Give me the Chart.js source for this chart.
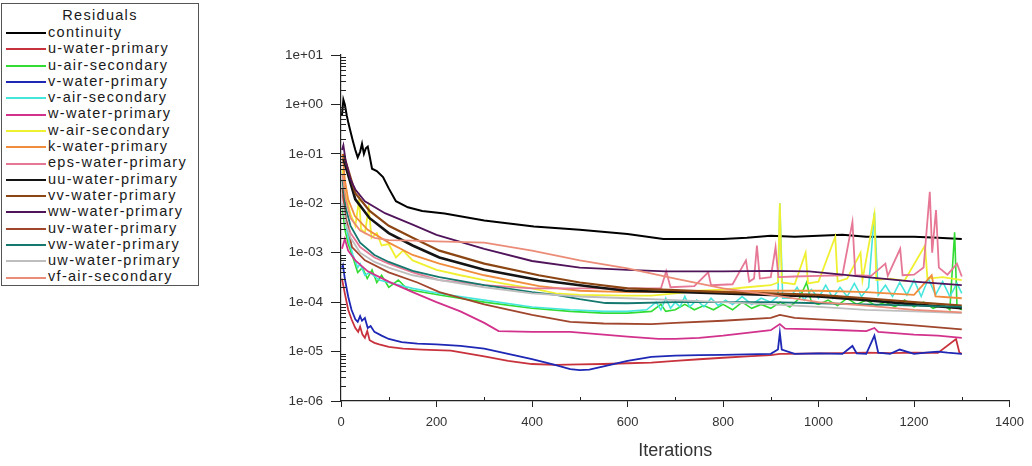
<!DOCTYPE html>
<html>
<head>
<meta charset="utf-8">
<script src="https://cdn.jsdelivr.net/npm/chart.js@4.4.1/dist/chart.umd.min.js"></script>
<style>
  body { margin: 0; background: #fff; }
  #wrap { position: relative; width: 1032px; height: 466px; }
  #legend {
    position: absolute; left: 1px; top: 3px; width: 196px; height: 281px;
    border: 1px solid #555; background: #fff;
    font-family: "Liberation Sans", Arial, sans-serif; font-size: 14.5px; letter-spacing: 1.3px; color: #1a1a1a;
  }
  #legend .title { text-align: center; height: 20px; line-height: 23px; }
  #legend .row { height: 16.3px; line-height: 16.3px; white-space: nowrap; }
  #legend .sw { display: inline-block; width: 40px; height: 2px; vertical-align: middle; margin: 0 2px 0 4px; }
</style>
</head>
<body>
<div id="wrap">
  <canvas id="myChart" width="1032" height="466"></canvas>
  <div id="legend"></div>
</div>
<script>
// residual series (iteration, value)
var names = ["continuity", "u-water-primary", "u-air-secondary", "v-water-primary", "v-air-secondary",
  "w-water-primary", "w-air-secondary", "k-water-primary", "eps-water-primary", "uu-water-primary",
  "vv-water-primary", "ww-water-primary", "uv-water-primary", "vw-water-primary", "uw-water-primary", "vf-air-secondary"];
var lineColors = ["#000000", "#c8323c", "#32dc32", "#1e28b4", "#46e6dc",
  "#d2328c", "#f0f032", "#f08c3c", "#e67896", "#141414",
  "#8c4614", "#50145a", "#a0462d", "#14786e", "#bebebe", "#eb8c78"];

var contIt = [2,5,8,12,16,20,25,30,35,40,44,48,52,56,60,65,75,88,100,115,140,170,217,300,404,500,600,675,750,800,850,900,950,1000,1050,1100,1150,1200,1250,1300];
var contVal = [0.6,1.25,1.0,0.6,0.4,0.28,0.18,0.12,0.085,0.11,0.16,0.1,0.13,0.14,0.09,0.05,0.045,0.034,0.02,0.011,0.0083,0.007,0.0062,0.0045,0.0034,0.0029,0.0024,0.0019,0.0019,0.0019,0.002,0.0022,0.0021,0.0022,0.0023,0.0021,0.0021,0.0021,0.002,0.0019];

var uWatIt = [2,8,15,22,30,36,40,45,50,55,60,70,80,100,130,170,230,300,350,400,450,500,550,600,650,700,750,800,850,900,919,930,1000,1050,1100,1150,1200,1250,1288,1295,1300];
var uWatVal = [3e-4,1.5e-4,7e-5,4.5e-5,3e-5,2.5e-5,3.2e-5,2.2e-5,1.9e-5,2.6e-5,1.7e-5,1.5e-5,1.4e-5,1.25e-5,1.15e-5,1.1e-5,1.05e-5,8e-6,6.5e-6,5.6e-6,5.4e-6,5.5e-6,5.6e-6,5.8e-6,6e-6,6.5e-6,7e-6,7.5e-6,8e-6,8.5e-6,9e-6,9e-6,9.2e-6,9.3e-6,9.5e-6,9.3e-6,9.5e-6,9.4e-6,1.8e-5,9.5e-6,9e-6];

var uAirIt = [3,8,15,25,35,45,55,65,75,85,100,120,140,206,300,400,480,550,600,650,670,680,700,720,740,760,780,800,820,840,860,880,900,920,940,960,975,985,1000,1020,1040,1060,1080,1100,1120,1140,1160,1180,1200,1220,1240,1260,1275,1285,1290,1300];
var uAirVal = [8e-3,3e-3,1.5e-3,8e-4,4e-4,5e-4,3e-4,4.5e-4,2.5e-4,3.5e-4,2e-4,2.8e-4,1.8e-4,1.4e-4,1e-4,7.5e-5,6.5e-5,6e-5,6e-5,6.5e-5,9e-5,6.5e-5,7e-5,9e-5,7e-5,8.5e-5,7e-5,9e-5,7e-5,1e-4,7.5e-5,9e-5,7.5e-5,1e-4,8e-5,1.2e-4,2.5e-4,1e-4,9e-5,1.1e-4,8.5e-5,1.2e-4,9e-5,1.1e-4,8.5e-5,1e-4,8e-5,1.1e-4,8e-5,1e-4,7.5e-5,9e-5,7e-5,2.6e-3,8e-5,7e-5];

var vWatIt = [2,4,8,15,22,30,35,40,44,50,56,62,70,85,100,127,160,200,250,300,350,400,450,480,500,520,550,600,650,700,750,800,850,900,915,919,923,950,1000,1050,1071,1080,1100,1117,1125,1150,1170,1200,1230,1250,1270,1300];
var vWatVal = [5e-4,5.6e-4,3e-4,1.3e-4,7e-5,4.5e-5,4e-5,5.2e-5,4.2e-5,4.8e-5,3e-5,3.3e-5,2.5e-5,2.1e-5,1.8e-5,1.55e-5,1.45e-5,1.4e-5,1.3e-5,1.15e-5,9e-6,7e-6,5.3e-6,4.4e-6,4.2e-6,4.3e-6,5e-6,6.5e-6,7.8e-6,8.3e-6,8.5e-6,8.6e-6,8.8e-6,9e-6,1.1e-5,2.4e-5,1.1e-5,9e-6,9.2e-6,9e-6,1.3e-5,9.2e-6,9e-6,2.1e-5,9.5e-6,9e-6,1.1e-5,9e-6,9.6e-6,1e-5,9.5e-6,9e-6];

var vAirIt = [3,8,15,25,35,40,50,60,80,100,150,206,300,400,480,550,600,640,660,670,680,690,700,710,720,730,745,760,775,790,805,820,840,860,880,900,915,919,925,940,955,970,985,1000,1015,1030,1045,1060,1075,1090,1105,1117,1125,1140,1155,1170,1185,1200,1215,1230,1245,1260,1275,1290,1300];
var vAirVal = [1e-2,5e-3,2e-3,9e-4,5e-4,6e-4,3.5e-4,4e-4,2.8e-4,2.5e-4,1.9e-4,1.5e-4,1.1e-4,8e-5,7e-5,6.5e-5,6.5e-5,7e-5,1e-4,7e-5,1.2e-4,7.5e-5,1e-4,8e-5,1.3e-4,8e-5,1.1e-4,8e-5,1.2e-4,8.5e-5,1.1e-4,9e-5,1.3e-4,9e-5,1.2e-4,1e-4,1.3e-4,1e-2,1.2e-4,1.2e-4,2e-4,1.1e-4,1.8e-4,1.2e-4,2.2e-4,1.2e-4,2e-4,1.3e-4,2.4e-4,1.3e-4,2e-4,6.5e-3,1.4e-4,2.2e-4,1.3e-4,2.5e-4,1.4e-4,2.8e-4,1.3e-4,3e-4,1.4e-4,2.6e-4,1.3e-4,2.4e-4,1.5e-4];

var wWatIt = [2,8,15,30,56,100,150,200,250,300,330,400,480,550,600,665,700,750,800,850,900,919,930,1000,1050,1100,1117,1125,1200,1250,1300];
var wWatVal = [1.2e-3,1.9e-3,1.1e-3,7e-4,4.2e-4,2.6e-4,1.6e-4,1e-4,6.5e-5,3.8e-5,2.6e-5,2.5e-5,2.5e-5,2.2e-5,2e-5,1.8e-5,1.8e-5,1.9e-5,2.1e-5,2.4e-5,2.7e-5,3.6e-5,2.9e-5,2.8e-5,2.7e-5,2.6e-5,3e-5,2.5e-5,2.2e-5,2.1e-5,1.9e-5];

var wAirIt = [3,10,20,30,38,42,50,58,64,75,85,100,115,130,150,200,250,300,350,400,450,500,600,650,700,750,800,850,900,915,919,923,950,973,978,1000,1035,1040,1060,1088,1092,1117,1121,1150,1180,1223,1228,1260,1300];
var wAirVal = [5e-2,1.5e-2,6e-3,3.5e-3,1.2e-2,3e-3,2.5e-3,8e-3,2e-3,2.5e-3,1.4e-3,1.5e-3,8e-4,1.1e-3,7e-4,4.5e-4,3.5e-4,2.8e-4,2.3e-4,1.9e-4,1.5e-4,1.4e-4,1.35e-4,1.35e-4,1.5e-4,1.7e-4,1.8e-4,2e-4,2.2e-4,2.5e-4,1e-2,2.5e-4,2.3e-4,1e-3,2.4e-4,2.6e-4,2.1e-3,2.6e-4,3e-4,1e-3,2.8e-4,6e-3,2.8e-4,3e-4,2.7e-4,1.4e-3,3e-4,3.2e-4,2.8e-4];

var kIt = [3,8,15,29,56,100,150,206,300,415,500,600,700,800,900,1000,1100,1200,1237,1245,1300];
var kVal = [0.1,0.03,0.012,5.5e-3,2.9e-3,1.6e-3,9e-4,6e-4,3.5e-4,2.1e-4,1.7e-4,1.6e-4,1.6e-4,1.65e-4,1.7e-4,1.7e-4,1.6e-4,1.4e-4,3.5e-4,1.3e-4,1.2e-4];

var epsIt = [3,10,20,40,70,100,150,206,300,400,500,600,670,681,690,740,769,775,820,848,855,865,871,877,900,910,916,950,1000,1050,1071,1077,1110,1140,1145,1171,1176,1200,1220,1233,1238,1246,1252,1270,1290,1300];
var epsVal = [1.5e-2,5e-3,2.5e-3,1.3e-3,8e-4,6e-4,4e-4,2.8e-4,2.2e-4,1.9e-4,1.9e-4,1.9e-4,1.9e-4,4.2e-4,2e-4,2.1e-4,4e-4,2.2e-4,2.3e-4,7e-4,2.6e-4,3e-4,1.4e-3,3e-4,3.2e-4,1.3e-3,3.2e-4,3.3e-4,3.4e-4,3.5e-4,4.2e-3,3.5e-4,3.4e-4,6e-4,3.4e-4,1.2e-3,3.5e-4,3.6e-4,5e-4,1.7e-2,1e-3,7.3e-3,5e-4,3.6e-4,6e-4,3.3e-4];

var uuIt = [5,30,60,100,150,206,300,414,500,596,706,800,900,1000,1100,1200,1300];
var uuVal = [0.08,0.012,0.005,0.0025,0.0014,8e-4,4.5e-4,2.8e-4,2.2e-4,1.7e-4,1.6e-4,1.5e-4,1.4e-4,1.3e-4,1.1e-4,9e-5,7.5e-5];

var vvIt = [5,30,60,100,150,206,300,414,500,600,700,800,900,1000,1100,1200,1300];
var vvVal = [0.1,0.016,0.007,0.0035,0.002,1.1e-3,6e-4,3.5e-4,2.5e-4,1.9e-4,1.75e-4,1.6e-4,1.5e-4,1.4e-4,1.2e-4,1e-4,8.5e-5];

var wwIt = [2,5,10,20,30,50,92,150,200,300,400,500,600,680,800,900,980,1050,1100,1200,1300];
var wwVal = [0.12,0.15,0.07,0.03,0.019,0.011,0.0063,0.0037,0.0023,0.0012,6.8e-4,5e-4,4.5e-4,4.2e-4,4.2e-4,4.3e-4,4.2e-4,3.6e-4,3.2e-4,2.6e-4,2.2e-4];

var uvIt = [3,10,23,50,100,160,206,300,400,480,550,650,700,800,900,919,950,1000,1100,1200,1300];
var uvVal = [0.02,0.005,1.3e-3,7e-4,4e-4,2.5e-4,1.6e-4,9e-5,5.5e-5,4e-5,3.7e-5,3.6e-5,3.8e-5,4.2e-5,4.8e-5,5.5e-5,4.8e-5,4.5e-5,4e-5,3.4e-5,2.8e-5];

var vwIt = [3,10,20,40,70,100,150,206,300,400,450,500,554,600,700,800,900,1000,1100,1200,1300];
var vwVal = [0.03,8e-3,3.5e-3,1.6e-3,9e-4,6.5e-4,4.3e-4,3.2e-4,2.2e-4,1.6e-4,1.4e-4,1.15e-4,9.6e-5,9.5e-5,1e-4,1e-4,1e-4,9.5e-5,9e-5,8.5e-5,8e-5];

var uwIt = [3,10,20,40,70,100,150,206,300,400,500,600,700,800,900,1000,1100,1200,1300];
var uwVal = [0.01,4e-3,2e-3,1e-3,6.5e-4,5e-4,3.5e-4,2.8e-4,2e-4,1.5e-4,1.3e-4,1.2e-4,1.1e-4,1e-4,9e-5,8e-5,7e-5,6.5e-5,6e-5];

var vfIt = [3,10,20,40,70,100,150,200,300,400,500,600,700,800,900,1000,1100,1200,1300];
var vfVal = [0.04,0.012,5e-3,2.8e-3,2e-3,1.8e-3,1.75e-3,1.7e-3,1.6e-3,1.1e-3,7e-4,4.8e-4,3e-4,1.9e-4,1.4e-4,1e-4,8.5e-5,7e-5,6.2e-5];

var seriesIt = [contIt, uWatIt, uAirIt, vWatIt, vAirIt, wWatIt, wAirIt, kIt, epsIt, uuIt, vvIt, wwIt, uvIt, vwIt, uwIt, vfIt];
var seriesVal = [contVal, uWatVal, uAirVal, vWatVal, vAirVal, wWatVal, wAirVal, kVal, epsVal, uuVal, vvVal, wwVal, uvVal, vwVal, uwVal, vfVal];
var thick = [2, 1.8, 1.6, 1.8, 1.6, 1.8, 1.8, 1.8, 1.8, 2.6, 2.2, 1.8, 1.8, 1.8, 1.8, 1.8];

var yTickVals = [1e-6, 1e-5, 1e-4, 1e-3, 1e-2, 1e-1, 1, 10];
var yTickLabels = ["1e-06", "1e-05", "1e-04", "1e-03", "1e-02", "1e-01", "1e+00", "1e+01"];

function pts(its, vals) {
  var out = [];
  for (var i = 0; i < its.length; i++) out.push({ x: its[i], y: vals[i] });
  return out;
}

var datasets = [];
// draw in reverse so continuity ends up on top
for (var i = names.length - 1; i >= 0; i--) {
  datasets.push({
    label: names[i],
    data: pts(seriesIt[i], seriesVal[i]),
    borderColor: lineColors[i],
    borderWidth: thick[i],
    pointRadius: 0,
    tension: 0,
    fill: false
  });
}

// legend box like the solver window
var leg = '<div class="title">Residuals</div>';
for (var j = 0; j < names.length; j++) {
  leg += '<div class="row"><span class="sw" style="background:' + lineColors[j] + '"></span>' + names[j] + '</div>';
}
document.getElementById("legend").innerHTML = leg;

// small log ticks on the inside of the y axis
var minorTicks = {
  id: "minorTicks",
  afterDraw: function (chart) {
    var ys = chart.scales.y, xs = chart.scales.x, ctx = chart.ctx;
    ctx.save();
    ctx.strokeStyle = "#222";
    ctx.lineWidth = 1;
    ctx.beginPath();
    for (var n = -6; n < 1; n++) {
      for (var m = 2; m < 10; m++) {
        var py = Math.round(ys.getPixelForValue(m * Math.pow(10, n))) + 0.5;
        ctx.moveTo(xs.left, py);
        ctx.lineTo(xs.left + 5, py);
      }
    }
    for (var t = 100; t < 1400; t += 200) {
      var px = Math.round(xs.getPixelForValue(t)) + 0.5;
      ctx.moveTo(px, ys.bottom);
      ctx.lineTo(px, ys.bottom - 4);
    }
    ctx.stroke();
    ctx.restore();
  }
};

new Chart(document.getElementById("myChart"), {
  type: "line",
  data: { datasets: datasets },
  plugins: [minorTicks],
  options: {
    responsive: false,
    animation: false,
    layout: { padding: { left: 271, top: 55, right: 15, bottom: 0 } },
    plugins: { legend: { display: false }, tooltip: { enabled: false } },
    scales: {
      x: {
        type: "linear", min: 0, max: 1400,
        ticks: {
          stepSize: 200, color: "#333", font: { family: "Liberation Sans", size: 13 }, maxRotation: 0, padding: 8,
          callback: function (v) { return String(v); }
        },
        grid: { drawOnChartArea: false, tickLength: 6, color: "#222" },
        border: { color: "#222", width: 1.2 },
        title: { display: true, text: "Iterations", color: "#333", font: { family: "Liberation Sans", size: 18 }, padding: { top: 2 } },
        afterFit: function (s) { s.height = 65; }
      },
      y: {
        type: "logarithmic", min: 1e-6, max: 10,
        afterBuildTicks: function (s) { s.ticks = yTickVals.map(function (v) { return { value: v }; }); },
        ticks: {
          color: "#333", font: { family: "Liberation Sans", size: 13.5 }, padding: 8,
          callback: function (v) { return yTickLabels[yTickVals.indexOf(v)]; }
        },
        grid: { drawOnChartArea: false, tickLength: 10, color: "#222" },
        border: { color: "#222", width: 1.2 },
        afterFit: function (s) { s.width = 70; }
      }
    }
  }
});
</script>
</body>
</html>
